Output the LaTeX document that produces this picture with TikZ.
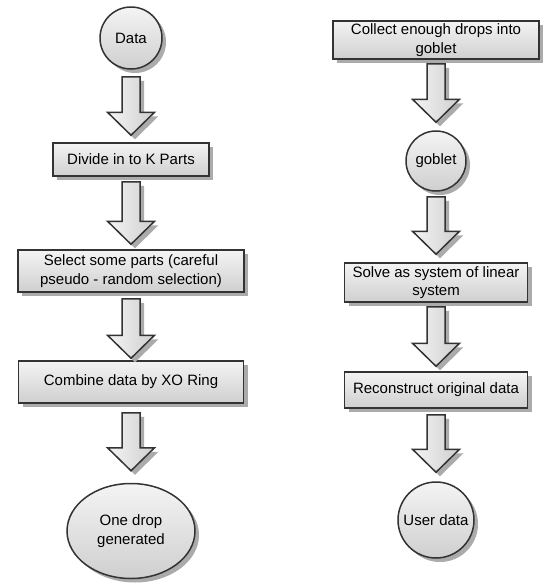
\documentclass[tikz,border=0pt]{standalone}
\usepackage{fontspec}
\setmainfont{Liberation Sans}
\usetikzlibrary{shapes.geometric,shadows,calc}
\definecolor{edge}{HTML}{333333}
\definecolor{fillhi}{HTML}{F4F4F4}
\definecolor{filllo}{HTML}{CFCFCF}
\definecolor{shade}{HTML}{ABABAB}
\tikzset{
  myshadow/.style={drop shadow={shadow xshift=4pt, shadow yshift=-4pt, fill=shade, opacity=1}},
  base/.style={draw=edge, line width=1.5pt, top color=fillhi, bottom color=filllo, myshadow,
    inner sep=0pt, align=center, font=\fontsize{15}{18.5}\selectfont},
  procbox/.style={base, rectangle},
  roundnode/.style={base, circle},
  ovalnode/.style={base, ellipse},
  barrow/.style={draw=edge, line width=1.5pt, left color=fillhi, right color=filllo, myshadow, line join=miter}
}
\newcommand\blockarrow[4]{%
  \draw[barrow] let \p1=(#1.south), \p2=(#2.north) in
   (\x1-9pt,\y1-#3pt) -- (\x1+9pt,\y1-#3pt) -- (\x1+9pt,\y2+#4pt+23pt) -- (\x1+23.5pt,\y2+#4pt+23pt)
   -- (\x1,\y2+#4pt) -- (\x1-23.5pt,\y2+#4pt+23pt) -- (\x1-9pt,\y2+#4pt+23pt) -- cycle;}
\begin{document}
\begin{tikzpicture}[x=1pt,y=-1pt]
\useasboundingbox (0,0) rectangle (542,584);
% left column
\node[roundnode, minimum size=62pt] (data) at (131,38) {Data};
\node[procbox, minimum width=156pt, minimum height=33pt] (divide) at (131,159.5) {Divide in to K Parts};
\node[procbox, minimum width=226pt, minimum height=42pt] (select) at (131,271) {Select some parts (careful\\pseudo - random selection)};
\node[procbox, minimum width=225pt, minimum height=42pt] (combine) at (131,382) {Combine data by XO Ring};
\node[ovalnode, minimum width=128pt, minimum height=95pt] (drop) at (131,531) {One drop\\generated};
% right column
\node[procbox, minimum width=206pt, minimum height=38pt] (collect) at (436,40) {Collect enough drops into\\goblet};
\node[roundnode, minimum size=60pt] (goblet) at (436,161) {goblet};
\node[procbox, minimum width=183pt, minimum height=39pt] (solve) at (436,282.5) {Solve as system of linear\\system};
\node[procbox, minimum width=183pt, minimum height=36pt] (recon) at (436,390) {Reconstruct original data};
\node[roundnode, minimum size=76pt] (user) at (436,520) {User data};
% arrows
\blockarrow{data}{divide}{7}{7}
\blockarrow{divide}{select}{5}{5}
\blockarrow{select}{combine}{6}{2}
\blockarrow{combine}{drop}{9}{12}
\blockarrow{collect}{goblet}{4}{8}
\blockarrow{goblet}{solve}{5}{8}
\blockarrow{solve}{recon}{4}{5}
\blockarrow{recon}{user}{6}{9}
\end{tikzpicture}
\end{document}
